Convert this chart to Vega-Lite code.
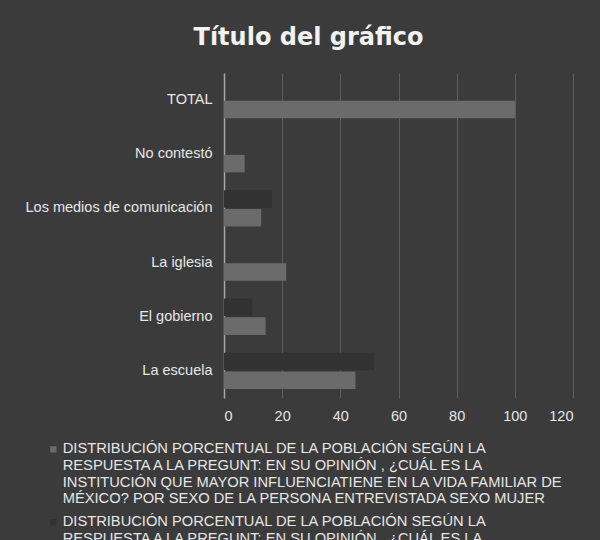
{
  "$schema": "https://vega.github.io/schema/vega-lite/v6.json",
  "width": 349,
  "height": 325,
  "autosize": {"type": "none"},
  "padding": {"left": 224, "top": 73, "right": 27, "bottom": 142},
  "background": "#3b3b3b",
  "title": {
    "text": "Título del gráfico",
    "color": "#f2f2f2",
    "fontSize": 24,
    "fontWeight": "bold",
    "font": "DejaVu Sans",
    "anchor": "middle",
    "dx": -90,
    "offset": 23
  },
  "data": {
    "values": [
      {"categoria": "TOTAL", "sexo": "MUJER", "serie": "DISTRIBUCIÓN PORCENTUAL DE LA POBLACIÓN SEGÚN LA|RESPUESTA A  LA PREGUNT: EN SU OPINIÓN , ¿CUÁL ES LA|INSTITUCIÓN QUE MAYOR INFLUENCIATIENE EN LA VIDA FAMILIAR DE|MÉXICO? POR SEXO DE LA PERSONA ENTREVISTADA SEXO MUJER", "valor": 100},
      {"categoria": "No contestó", "sexo": "MUJER", "serie": "DISTRIBUCIÓN PORCENTUAL DE LA POBLACIÓN SEGÚN LA|RESPUESTA A  LA PREGUNT: EN SU OPINIÓN , ¿CUÁL ES LA|INSTITUCIÓN QUE MAYOR INFLUENCIATIENE EN LA VIDA FAMILIAR DE|MÉXICO? POR SEXO DE LA PERSONA ENTREVISTADA SEXO MUJER", "valor": 7.1},
      {"categoria": "Los medios de comunicación", "sexo": "MUJER", "serie": "DISTRIBUCIÓN PORCENTUAL DE LA POBLACIÓN SEGÚN LA|RESPUESTA A  LA PREGUNT: EN SU OPINIÓN , ¿CUÁL ES LA|INSTITUCIÓN QUE MAYOR INFLUENCIATIENE EN LA VIDA FAMILIAR DE|MÉXICO? POR SEXO DE LA PERSONA ENTREVISTADA SEXO MUJER", "valor": 12.8},
      {"categoria": "La iglesia", "sexo": "MUJER", "serie": "DISTRIBUCIÓN PORCENTUAL DE LA POBLACIÓN SEGÚN LA|RESPUESTA A  LA PREGUNT: EN SU OPINIÓN , ¿CUÁL ES LA|INSTITUCIÓN QUE MAYOR INFLUENCIATIENE EN LA VIDA FAMILIAR DE|MÉXICO? POR SEXO DE LA PERSONA ENTREVISTADA SEXO MUJER", "valor": 21.4},
      {"categoria": "El gobierno", "sexo": "MUJER", "serie": "DISTRIBUCIÓN PORCENTUAL DE LA POBLACIÓN SEGÚN LA|RESPUESTA A  LA PREGUNT: EN SU OPINIÓN , ¿CUÁL ES LA|INSTITUCIÓN QUE MAYOR INFLUENCIATIENE EN LA VIDA FAMILIAR DE|MÉXICO? POR SEXO DE LA PERSONA ENTREVISTADA SEXO MUJER", "valor": 14.3},
      {"categoria": "La escuela", "sexo": "MUJER", "serie": "DISTRIBUCIÓN PORCENTUAL DE LA POBLACIÓN SEGÚN LA|RESPUESTA A  LA PREGUNT: EN SU OPINIÓN , ¿CUÁL ES LA|INSTITUCIÓN QUE MAYOR INFLUENCIATIENE EN LA VIDA FAMILIAR DE|MÉXICO? POR SEXO DE LA PERSONA ENTREVISTADA SEXO MUJER", "valor": 45.2},
      {"categoria": "Los medios de comunicación", "sexo": "HOMBRE", "serie": "DISTRIBUCIÓN PORCENTUAL DE LA POBLACIÓN SEGÚN LA|RESPUESTA A  LA PREGUNT: EN SU OPINIÓN , ¿CUÁL ES LA|INSTITUCIÓN QUE MAYOR INFLUENCIATIENE EN LA VIDA FAMILIAR DE|MÉXICO? POR SEXO DE LA PERSONA ENTREVISTADA SEXO HOMBRE", "valor": 16.5},
      {"categoria": "El gobierno", "sexo": "HOMBRE", "serie": "DISTRIBUCIÓN PORCENTUAL DE LA POBLACIÓN SEGÚN LA|RESPUESTA A  LA PREGUNT: EN SU OPINIÓN , ¿CUÁL ES LA|INSTITUCIÓN QUE MAYOR INFLUENCIATIENE EN LA VIDA FAMILIAR DE|MÉXICO? POR SEXO DE LA PERSONA ENTREVISTADA SEXO HOMBRE", "valor": 9.7},
      {"categoria": "La escuela", "sexo": "HOMBRE", "serie": "DISTRIBUCIÓN PORCENTUAL DE LA POBLACIÓN SEGÚN LA|RESPUESTA A  LA PREGUNT: EN SU OPINIÓN , ¿CUÁL ES LA|INSTITUCIÓN QUE MAYOR INFLUENCIATIENE EN LA VIDA FAMILIAR DE|MÉXICO? POR SEXO DE LA PERSONA ENTREVISTADA SEXO HOMBRE", "valor": 51.6}
    ]
  },
  "mark": {"type": "bar"},
  "encoding": {
    "y": {
      "field": "categoria",
      "type": "nominal",
      "sort": ["TOTAL", "No contestó", "Los medios de comunicación", "La iglesia", "El gobierno", "La escuela"],
      "scale": {"paddingInner": 0.33, "paddingOuter": 0.165},
      "axis": {
        "title": null,
        "labelColor": "#e6e6e6",
        "labelFontSize": 14.5,
        "labelFont": "Liberation Sans",
        "labelLimit": 300,
        "ticks": false,
        "domainColor": "#a8a8a8",
        "domainWidth": 1.5,
        "labelPadding": 12
      }
    },
    "yOffset": {
      "field": "sexo",
      "type": "nominal",
      "scale": {"domain": ["HOMBRE", "MUJER"], "paddingInner": 0.06}
    },
    "x": {
      "field": "valor",
      "type": "quantitative",
      "scale": {"domain": [0, 120], "nice": false},
      "axis": {
        "title": null,
        "values": [0, 20, 40, 60, 80, 100, 120],
        "grid": true,
        "gridColor": "#5e5e5e",
        "domain": false,
        "ticks": false,
        "labelColor": "#e6e6e6",
        "labelFontSize": 14.5,
        "labelFont": "Liberation Sans",
        "labelPadding": 11
      }
    },
    "color": {
      "field": "serie",
      "type": "nominal",
      "scale": {
        "domain": [
          "DISTRIBUCIÓN PORCENTUAL DE LA POBLACIÓN SEGÚN LA|RESPUESTA A  LA PREGUNT: EN SU OPINIÓN , ¿CUÁL ES LA|INSTITUCIÓN QUE MAYOR INFLUENCIATIENE EN LA VIDA FAMILIAR DE|MÉXICO? POR SEXO DE LA PERSONA ENTREVISTADA SEXO MUJER",
          "DISTRIBUCIÓN PORCENTUAL DE LA POBLACIÓN SEGÚN LA|RESPUESTA A  LA PREGUNT: EN SU OPINIÓN , ¿CUÁL ES LA|INSTITUCIÓN QUE MAYOR INFLUENCIATIENE EN LA VIDA FAMILIAR DE|MÉXICO? POR SEXO DE LA PERSONA ENTREVISTADA SEXO HOMBRE"
        ],
        "range": ["#6b6b6b", "#323232"]
      },
      "legend": {
        "title": null,
        "orient": "none",
        "legendX": -178,
        "legendY": 369,
        "labelExpr": "split(datum.label, '|')",
        "labelLimit": 700,
        "labelColor": "#e6e6e6",
        "labelFontSize": 14.7,
        "labelFont": "Liberation Sans",
        "symbolType": "square",
        "symbolSize": 40,
        "symbolStrokeWidth": 0,
        "labelOffset": 2,
        "rowPadding": 7,
        "encode": {"labels": {"update": {"lineHeight": {"value": 16.7}}}}
      }
    }
  },
  "config": {"view": {"stroke": null}}
}
